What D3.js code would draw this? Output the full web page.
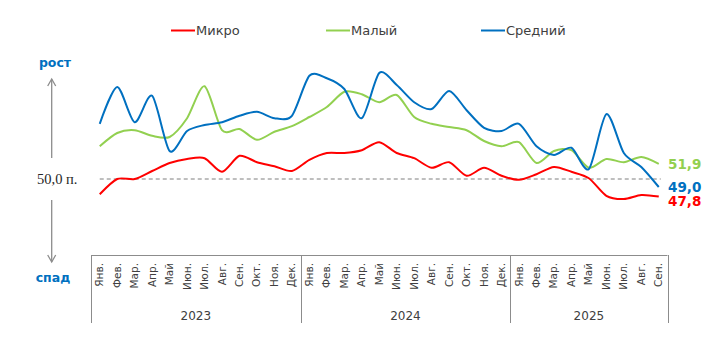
<!DOCTYPE html>
<html><head><meta charset="utf-8">
<script src="https://cdn.jsdelivr.net/npm/d3@7"></script>
<style>body{margin:0;background:#fff}svg{display:block}</style>
</head><body>
<svg id="c" width="714" height="337"></svg>
<script>
const months = ["Янв.","Фев.","Мар.","Апр.","Май","Июн.","Июл.","Авг.","Сен.","Окт.","Ноя.","Дек.",
  "Янв.","Фев.","Мар.","Апр.","Май","Июн.","Июл.","Авг.","Сен.","Окт.","Ноя.","Дек.",
  "Янв.","Фев.","Мар.","Апр.","Май","Июн.","Июл.","Авг.","Сен."];
const years = ["2023","2024","2025"];
const yearCounts = [12,12,9];
const micro = [48.1,50.0,50.0,51.0,52.0,52.5,52.6,50.9,52.9,52.1,51.6,51.0,
  52.4,53.25,53.25,53.6,54.6,53.25,52.6,51.4,52.1,50.4,51.4,50.4,
  49.9,50.6,51.5,50.9,50.1,47.9,47.5,48.0,47.8];
const small = [54.1,55.75,56.1,55.4,55.25,57.6,61.6,56.1,56.25,54.9,55.9,56.6,
  57.75,59.0,60.9,60.6,59.6,60.5,57.75,56.9,56.5,56.1,54.75,54.1,
  54.6,52.0,53.5,53.6,51.4,52.5,52.1,52.75,51.9];
const medium = [56.9,61.5,57.1,60.4,53.5,56.0,56.75,57.1,57.9,58.4,57.6,57.9,
  62.9,62.6,61.25,57.6,63.25,61.75,59.6,58.75,61.0,58.6,56.4,56.0,
  56.9,54.1,53.0,53.9,51.25,58.1,53.25,51.5,49.0];
const seriesNames = ["Микро","Малый","Средний"];
const seriesColors = ["#ff0000","#92d050","#0070c0"];
const endLabels = ["47,8","51,9","49,0"];
const refValue = 50;

const svg = d3.select("#c");
const x = d3.scaleBand().domain(d3.range(months.length)).range([91, 667.5]);
const y = d3.scaleLinear().domain([44, 66]).range([227, 51]);
const cx = i => x(i) + x.bandwidth()/2;
const font = "'DejaVu Sans', sans-serif";

// reference dashed line
svg.append("line").attr("x1", cx(0)).attr("x2", cx(months.length-1)+2)
  .attr("y1", y(refValue)).attr("y2", y(refValue))
  .attr("stroke","#7f7f7f").attr("stroke-width",1).attr("stroke-dasharray","4,3");

const data = [micro, small, medium];
const line = d3.line().x((d,i)=>cx(i)).y(d=>y(d)).curve(d3.curveCardinal.tension(0.2));
// draw order: green, red, blue
[1,0,2].forEach(k=>{
  svg.append("path").attr("d", line(data[k])).attr("fill","none")
    .attr("stroke", seriesColors[k]).attr("stroke-width",2);
});

// end labels
const endOffsets = [5, 0, 0];
data.forEach((s,k)=>{
  svg.append("text").attr("x", 668).attr("y", y(s[s.length-1]) + endOffsets[k])
    .attr("dy","0.35em").attr("font-family",font).attr("font-weight","bold")
    .attr("font-size",13.5).attr("fill",seriesColors[k]).text(endLabels[k]);
});

// x axis box
const g = svg.append("g").attr("stroke","#8c8c8c").attr("stroke-width",1);
g.append("line").attr("x1",x(0)).attr("x2",x.range()[1]).attr("y1",255.5).attr("y2",255.5);
let acc = 0;
const bounds = [0];
yearCounts.forEach(c=>{acc+=c;bounds.push(acc);});
bounds.forEach(b=>{
  const xx = b < months.length ? x(b) : x.range()[1];
  g.append("line").attr("x1",Math.round(xx)+0.5).attr("x2",Math.round(xx)+0.5).attr("y1",255).attr("y2",323);
});
months.forEach((m,i)=>{
  svg.append("text").attr("transform",`translate(${cx(i)+3.5},263) rotate(-90)`)
    .attr("text-anchor","end").attr("font-family",font).attr("font-size",10.5)
    .attr("fill","#404040").text(m);
});
years.forEach((yr,k)=>{
  const a = x(bounds[k]), b = bounds[k+1] < months.length ? x(bounds[k+1]) : x.range()[1];
  svg.append("text").attr("x",(a+b)/2).attr("y",320).attr("text-anchor","middle")
    .attr("font-family",font).attr("font-size",12).attr("fill","#404040").text(yr);
});

// legend
const legendX = [171, 326, 481];
seriesNames.forEach((n,k)=>{
  svg.append("line").attr("x1",legendX[k]).attr("x2",legendX[k]+24).attr("y1",30.5).attr("y2",30.5)
    .attr("stroke",seriesColors[k]).attr("stroke-width",2);
  svg.append("text").attr("x",legendX[k]+25).attr("y",30.5).attr("dy","0.35em")
    .attr("font-family",font).attr("font-size",13).attr("fill","#404040").text(n);
});

// left annotation
const arrowColor = "#8c8c8c";
svg.append("text").attr("x",55).attr("y",63).attr("dy","0.35em").attr("text-anchor","middle")
  .attr("font-family",font).attr("font-weight","bold").attr("font-size",12.5).attr("fill","#0070c0").text("рост");
svg.append("text").attr("x",53).attr("y",278).attr("dy","0.35em").attr("text-anchor","middle")
  .attr("font-family",font).attr("font-weight","bold").attr("font-size",12.5).attr("fill","#0070c0").text("спад");
svg.append("text").attr("x",37).attr("y",y(refValue)).attr("dy","0.35em")
  .attr("font-family","'Liberation Serif', serif").attr("font-size",14.5).attr("fill","#262626").text("50,0 п.");
const ax = 51.7;
svg.append("line").attr("x1",ax).attr("x2",ax).attr("y1",158).attr("y2",79).attr("stroke",arrowColor).attr("stroke-width",1.3);
svg.append("path").attr("d",`M${ax-4},${86} L${ax},${79} L${ax+4},${86}`).attr("fill","none").attr("stroke",arrowColor).attr("stroke-width",1.3);
svg.append("line").attr("x1",ax).attr("x2",ax).attr("y1",200).attr("y2",262).attr("stroke",arrowColor).attr("stroke-width",1.3);
svg.append("path").attr("d",`M${ax-4},${255} L${ax},${262} L${ax+4},${255}`).attr("fill","none").attr("stroke",arrowColor).attr("stroke-width",1.3);
</script>
</body></html>
